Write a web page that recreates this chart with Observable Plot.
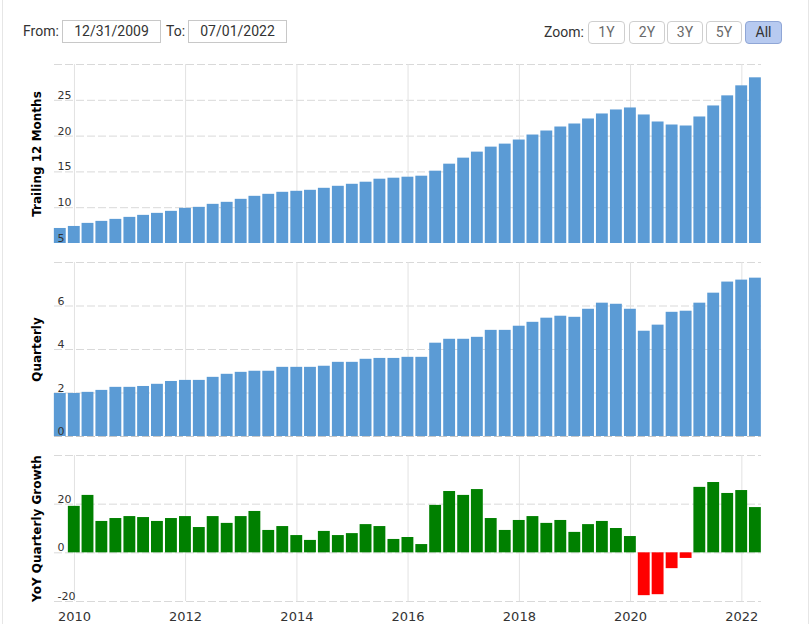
<!DOCTYPE html>
<html>
<head>
<meta charset="utf-8">
<script src="https://cdn.jsdelivr.net/npm/d3@7"></script>
<script src="https://cdn.jsdelivr.net/npm/@observablehq/plot@0.6"></script>
<style>
  body { margin: 0; background: #fff; }
  #wrap { position: relative; width: 809px; height: 624px; overflow: hidden; font-family: Roboto, "Open Sans", sans-serif; }
  .frame { position: absolute; left: 2px; top: 0; width: 805px; height: 640px; border-left: 1px solid #e6e6e6; border-right: 1px solid #e6e6e6; }
  .lbl { position: absolute; top: 20px; font-size: 14px; line-height: 23px; color: #333; }
  .box { position: absolute; top: 20px; height: 21px; border: 1px solid #c8c8c8; font-size: 14px; line-height: 21px; color: #333; text-align: center; }
  .btn { position: absolute; top: 21px; height: 21px; border: 1px solid #cfcfcf; border-radius: 4px; font-size: 14px; line-height: 21px; color: #6a6a6a; text-align: center; background: #fff; }
  .btn.on { background: #b7caf0; border-color: #8fa6d6; color: #333; }
  .panel { position: absolute; left: 0; }
</style>
</head>
<body>
<div id="wrap"><div class="frame"></div></div>
<script>
// ---- data ----
const quarters = [
  "2009-09-30","2009-12-31",
  "2010-03-31","2010-06-30","2010-09-30","2010-12-31",
  "2011-03-31","2011-06-30","2011-09-30","2011-12-31",
  "2012-03-31","2012-06-30","2012-09-30","2012-12-31",
  "2013-03-31","2013-06-30","2013-09-30","2013-12-31",
  "2014-03-31","2014-06-30","2014-09-30","2014-12-31",
  "2015-03-31","2015-06-30","2015-09-30","2015-12-31",
  "2016-03-31","2016-06-30","2016-09-30","2016-12-31",
  "2017-03-31","2017-06-30","2017-09-30","2017-12-31",
  "2018-03-31","2018-06-30","2018-09-30","2018-12-31",
  "2019-03-31","2019-06-30","2019-09-30","2019-12-31",
  "2020-03-31","2020-06-30","2020-09-30","2020-12-31",
  "2021-03-31","2021-06-30","2021-09-30","2021-12-31",
  "2022-03-31"
];
const ttm = [
  7.10,7.38,7.81,8.09,8.37,8.65,8.93,9.21,9.49,9.91,
  10.05,10.47,10.75,11.17,11.59,11.87,12.15,12.29,12.43,12.71,
  12.99,13.27,13.56,13.98,14.12,14.26,14.40,15.10,16.08,16.92,
  17.76,18.46,18.88,19.45,20.15,20.71,21.27,21.69,22.39,23.09,
  23.65,23.93,22.95,21.97,21.55,21.41,22.67,24.21,25.62,27.02,28.14
];
const quarterly = [
  1.98,1.98,2.03,2.12,2.26,2.26,2.30,2.40,2.53,2.58,
  2.58,2.72,2.86,2.95,3.00,3.00,3.18,3.18,3.18,3.23,
  3.41,3.41,3.55,3.59,3.59,3.64,3.64,4.29,4.47,4.47,
  4.56,4.88,4.88,5.07,5.25,5.44,5.53,5.48,5.85,6.13,
  6.08,5.85,4.84,5.12,5.71,5.76,6.13,6.59,7.10,7.19,7.28
];
const yoyGrowth = [
  null,19.1,23.6,12.9,14.1,14.9,14.5,12.9,14.1,14.9,
  10.4,14.9,12.1,14.9,17.0,9.2,10.8,7.1,5.1,8.8,
  7.1,7.9,11.6,10.8,5.5,6.3,3.4,19.5,25.2,23.6,
  26.0,14.1,9.2,13.3,14.9,12.1,13.3,8.4,11.6,12.9,
  10.0,6.7,-17.6,-17.2,-6.5,-2.3,26.9,28.9,24.4,25.6,18.6
];
const panelTitles = ["Trailing 12 Months", "Quarterly", "YoY Quarterly Growth"];
const ttmGrid = [10, 15, 20, 25, 30], ttmLabels = [5, 10, 15, 20, 25];
const qGrid = [2, 4, 6, 8], qLabels = [0, 2, 4, 6];
const yoyGrid = [-20, 0, 20, 40], yoyLabels = [-20, 0, 20];
const rangeFrom = "12/31/2009", rangeTo = "07/01/2022";
const zoomLabels = ["1Y", "2Y", "3Y", "5Y", "All"];

// ---- controls ----
const wrap = document.getElementById("wrap");
function el(cls, text, css) {
  const d = document.createElement("div");
  d.className = cls; d.textContent = text;
  Object.assign(d.style, css);
  wrap.appendChild(d);
  return d;
}
el("lbl", "From:", {left: "23px"});
el("box", rangeFrom, {left: "62px", width: "97px"});
el("lbl", "To:", {left: "166px"});
el("box", rangeTo, {left: "188px", width: "97px"});
el("lbl", "Zoom:", {left: "544px", top: "21px"});
const btnPos = [[588, 35], [629, 34], [667, 34], [706, 34], [745, 35]];
zoomLabels.forEach((t, i) => {
  el("btn" + (t === "All" ? " on" : ""), t, {left: btnPos[i][0] + "px", width: btnPos[i][1] + "px"});
});

// ---- chart ----
const parse = d3.utcParse("%Y-%m-%d");
const rows = quarters.map((q, i) => ({date: parse(q), ttm: ttm[i], qtr: quarterly[i], yoy: yoyGrowth[i]}));
const halfDays = 39;
const bx1 = d => d3.utcDay.offset(d.date, -halfDays);
const bx2 = d => d3.utcDay.offset(d.date, halfDays);
const xDomain = [parse("2009-08-23"), parse("2022-05-10")];
const xTicks = d3.utcYear.every(2).range(parse("2010-01-01"), parse("2022-06-01"));
const blue = "#5b9bd5";

function panel({top, height, mt, mb, yDomain, grid, labels, title, marks, xAxis}) {
  const svg = Plot.plot({
    width: 809, height,
    marginLeft: 54, marginRight: 48, marginTop: mt, marginBottom: mb,
    style: {fontFamily: "'DejaVu Sans', Verdana, sans-serif", fontSize: "11px", color: "#333", background: "transparent", overflow: "visible"},
    x: {type: "utc", domain: xDomain, axis: null},
    y: {domain: yDomain, axis: null},
    color: {type: "identity"},
    marks: [
      Plot.gridY(grid, {stroke: "#d9d9d9", strokeOpacity: 1, strokeDasharray: "8,3"}),
      Plot.gridX(xTicks, {stroke: "#e2e2e2", strokeOpacity: 1}),
      ...marks,
      Plot.axisY(labels, {anchor: "left", label: null, tickSize: 0, tickPadding: -3, textAnchor: "start", dy: -5, fill: "#333", fontSize: 11, tickFormat: d => String(d)}),
      Plot.text([title], {frameAnchor: "left", dx: -17, rotate: -90, textAnchor: "middle", lineAnchor: "middle", fontWeight: "bold", fontSize: 12, fill: "#000"}),
      ...(xAxis ? [Plot.axisX(xTicks, {label: null, tickSize: 0, tickPadding: 10, tickFormat: "%Y", fontSize: 13, fill: "#333"})] : [])
    ]
  });
  svg.classList.add("panel");
  svg.style.top = top + "px";
  svg.style.position = "absolute";
  wrap.appendChild(svg);
}

panel({
  top: 55, height: 195, mt: 9, mb: 7, yDomain: [5, 30], grid: ttmGrid, labels: ttmLabels, title: panelTitles[0],
  marks: [Plot.rectY(rows, {x1: bx1, x2: bx2, y1: 5, y2: "ttm", fill: blue})]
});
panel({
  top: 250, height: 190, mt: 12, mb: 4, yDomain: [0, 8], grid: qGrid, labels: qLabels, title: panelTitles[1],
  marks: [
    Plot.rectY(rows, {x1: bx1, x2: bx2, y1: 0, y2: "qtr", fill: blue}),
    Plot.ruleY([0], {stroke: "#000", strokeOpacity: 0.22, strokeDasharray: "8,3"})
  ]
});
panel({
  top: 445, height: 179, mt: 10, mb: 23, yDomain: [-20, 40], grid: yoyGrid, labels: yoyLabels, title: panelTitles[2],
  marks: [Plot.rectY(rows.filter(d => d.yoy != null), {x1: bx1, x2: bx2, y1: 0, y2: "yoy", fill: d => d.yoy >= 0 ? "#008000" : "#ff0000"})],
  xAxis: true
});
</script>
</body>
</html>
